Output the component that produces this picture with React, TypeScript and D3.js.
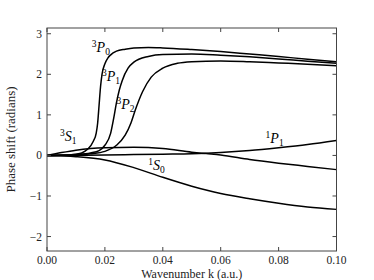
import React from "react";
import * as d3 from "d3";

const kP0 = [0, 0.005, 0.01, 0.012, 0.014, 0.016, 0.017, 0.0175, 0.018, 0.0185, 0.019, 0.02, 0.021, 0.022, 0.024, 0.027, 0.03, 0.035, 0.04, 0.05, 0.06, 0.07, 0.08, 0.09, 0.1];
const vP0 = [0, 0.005, 0.03, 0.06, 0.15, 0.35, 0.55, 0.8, 1.25, 1.7, 2.0, 2.26, 2.4, 2.48, 2.57, 2.62, 2.65, 2.66, 2.65, 2.61, 2.56, 2.5, 2.44, 2.37, 2.31];

const kP1 = [0, 0.005, 0.01, 0.015, 0.018, 0.02, 0.022, 0.023, 0.024, 0.025, 0.026, 0.028, 0.03, 0.035, 0.04, 0.05, 0.06, 0.07, 0.08, 0.09, 0.1];
const vP1 = [0, 0.004, 0.02, 0.06, 0.12, 0.25, 0.55, 0.9, 1.3, 1.62, 1.85, 2.15, 2.3, 2.44, 2.49, 2.5, 2.47, 2.43, 2.38, 2.32, 2.27];

const kP2 = [0, 0.005, 0.01, 0.015, 0.02, 0.024, 0.027, 0.029, 0.0305, 0.033, 0.036, 0.04, 0.045, 0.05, 0.06, 0.07, 0.08, 0.09, 0.1];
const vP2 = [0, 0.003, 0.012, 0.04, 0.1, 0.25, 0.5, 0.8, 1.12, 1.57, 1.93, 2.15, 2.27, 2.31, 2.33, 2.31, 2.28, 2.25, 2.21];

const kS1 = [0, 0.005, 0.01, 0.015, 0.02, 0.03, 0.04, 0.05, 0.055, 0.06, 0.07, 0.08, 0.09, 0.1];
const vS1 = [0, 0.07, 0.13, 0.17, 0.19, 0.2, 0.17, 0.08, 0.045, 0.01, -0.1, -0.19, -0.27, -0.35];

const kS0 = [0, 0.01, 0.02, 0.03, 0.04, 0.05, 0.06, 0.07, 0.08, 0.09, 0.1];
const vS0 = [0, -0.03, -0.11, -0.3, -0.54, -0.76, -0.94, -1.07, -1.18, -1.27, -1.33];

const kP1s = [0, 0.01, 0.02, 0.03, 0.04, 0.05, 0.06, 0.07, 0.08, 0.09, 0.1];
const vP1s = [0, 0.005, 0.01, 0.02, 0.03, 0.04, 0.07, 0.12, 0.19, 0.27, 0.37];

const xTicks = [0, 0.02, 0.04, 0.06, 0.08, 0.1];
const yTicks = [-2, -1, 0, 1, 2, 3];

const series = [
  { k: kP0, v: vP0 },
  { k: kP1, v: vP1 },
  { k: kP2, v: vP2 },
  { k: kS1, v: vS1 },
  { k: kS0, v: vS0 },
  { k: kP1s, v: vP1s },
];

const labels = [
  { sup: "3", L: "P", sub: "0", k: 0.0155, v: 2.55 },
  { sup: "3", L: "P", sub: "1", k: 0.0190, v: 1.84 },
  { sup: "3", L: "P", sub: "2", k: 0.0240, v: 1.15 },
  { sup: "3", L: "S", sub: "1", k: 0.0045, v: 0.36 },
  { sup: "1", L: "S", sub: "0", k: 0.0350, v: -0.37 },
  { sup: "1", L: "P", sub: "1", k: 0.0755, v: 0.3 },
];

export default function App() {
  const W = 374, H = 280;
  const m = { l: 47, r: 37.5, t: 28, b: 29 };
  const x = d3.scaleLinear().domain([0, 0.1]).range([m.l, W - m.r]);
  const y = d3.scaleLinear().domain([-0.75 * Math.PI, Math.PI]).range([H - m.b, m.t]);
  const line = d3.line<[number, number]>().x(d => x(d[0])).y(d => y(d[1])).curve(d3.curveMonotoneX);
  const font = "'Liberation Serif', 'DejaVu Serif', serif";
  const fmtY = (v: number) => (v < 0 ? "\u2212" + Math.abs(v) : String(v));
  const spine = "#444";
  const x0 = x(0), x1 = x(0.1), y0 = y.range()[0], y1 = y.range()[1];
  return (
    <svg width={W} height={H} style={{ position: "absolute", left: 0, top: 0, background: "#fff" }} fontFamily={font}>
      <rect x={0} y={0} width={W} height={H} fill="#fff" />
      <defs>
        <clipPath id="clip"><rect x={x0} y={y1} width={x1 - x0} height={y0 - y1} /></clipPath>
      </defs>
      <g clipPath="url(#clip)">
        {series.map((s, i) => (
          <path key={i} d={line(s.k.map((kk, j) => [kk, s.v[j]] as [number, number])) || ""} fill="none" stroke="#000" strokeWidth={1.5} />
        ))}
      </g>
      <rect x={x0} y={y1} width={x1 - x0} height={y0 - y1} fill="none" stroke={spine} strokeWidth={1} />
      {xTicks.map(t => (
        <g key={"x" + t}>
          <line x1={x(t)} x2={x(t)} y1={y0} y2={y0 - 4} stroke={spine} />
          <line x1={x(t)} x2={x(t)} y1={y1} y2={y1 + 4} stroke={spine} />
          <text x={x(t)} y={y0 + 13} textAnchor="middle" fontSize={11.5} fill="#222">{t.toFixed(2)}</text>
        </g>
      ))}
      {yTicks.map(t => (
        <g key={"y" + t}>
          <line x1={x0} x2={x0 + 4} y1={y(t)} y2={y(t)} stroke={spine} />
          <line x1={x1} x2={x1 - 4} y1={y(t)} y2={y(t)} stroke={spine} />
          <text x={x0 - 5} y={y(t) + 4} textAnchor="end" fontSize={11.5} fill="#222">{fmtY(t)}</text>
        </g>
      ))}
      <text x={(x0 + x1) / 2} y={H - 2.5} textAnchor="middle" fontSize={12} fill="#222">Wavenumber k (a.u.)</text>
      <text transform={`translate(15,${(y0 + y1) / 2}) rotate(-90)`} textAnchor="middle" fontSize={13} fill="#222">Phase shift (radians)</text>
      {labels.map((lb, i) => (
        <text key={i} x={x(lb.k)} y={y(lb.v)} fontSize={14} fill="#000">
          <tspan fontSize={9.5} dy={-5}>{lb.sup}</tspan>
          <tspan fontStyle="italic" dy={5}>{lb.L}</tspan>
          <tspan fontSize={9.5} dy={3}>{lb.sub}</tspan>
        </text>
      ))}
    </svg>
  );
}
